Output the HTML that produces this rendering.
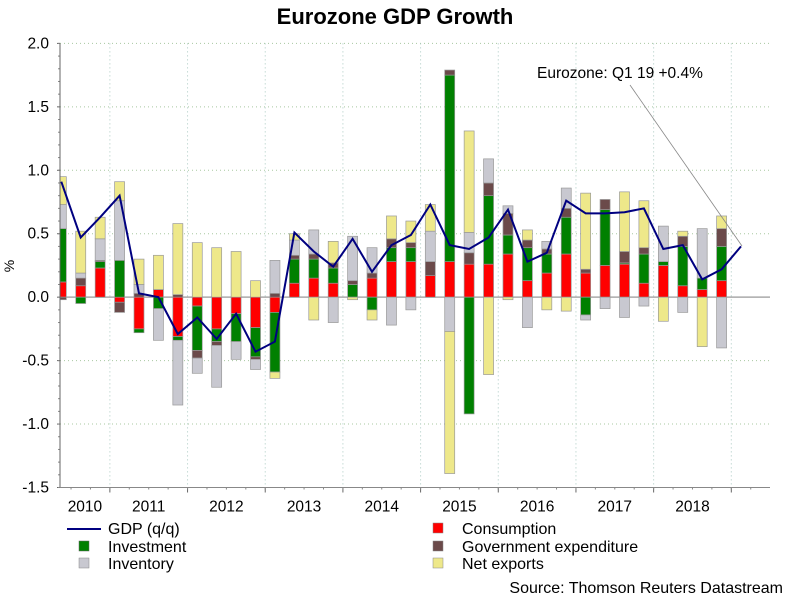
<!DOCTYPE html>
<html><head><meta charset="utf-8"><style>
body{margin:0;background:#fff;font-family:"Liberation Sans",Arial,sans-serif}
svg text{font-family:"Liberation Sans",Arial,sans-serif}
</style></head><body>
<svg id="chart" width="788" height="594" viewBox="0 0 788 594">
<text x="395" y="24" text-anchor="middle" font-size="22" font-weight="bold">Eurozone GDP Growth</text>
<g id="grid"></g><g id="bars"></g><g id="axes"></g><g id="line"></g>
<line x1="630" y1="85" x2="742" y2="246" stroke="#888" stroke-width="0.8"/>
<text x="537" y="78" font-size="15.5">Eurozone: Q1 19 +0.4%</text>
<text x="14" y="266" font-size="14" text-anchor="middle" transform="rotate(-90 14 266)">%</text>
<g>
<line x1="67" y1="529" x2="101" y2="529" stroke="#000080" stroke-width="2"/>
<text x="108" y="534" font-size="16">GDP (q/q)</text>
<rect x="79" y="541" width="10" height="10" fill="#008000" stroke="#666" stroke-width="0.5"/>
<text x="108" y="552" font-size="16">Investment</text>
<rect x="79" y="558" width="10" height="10" fill="#c8c8d0" stroke="#888" stroke-width="0.5"/>
<text x="108" y="569" font-size="16">Inventory</text>
<rect x="433" y="523" width="10" height="10" fill="#ff0000" stroke="#888" stroke-width="0.5"/>
<text x="462" y="534" font-size="16">Consumption</text>
<rect x="433" y="541" width="10" height="10" fill="#6b4a4a" stroke="#888" stroke-width="0.5"/>
<text x="462" y="552" font-size="16">Government expenditure</text>
<rect x="433" y="558" width="10" height="10" fill="#eee88a" stroke="#888" stroke-width="0.5"/>
<text x="462" y="569" font-size="16">Net exports</text>
</g>
<text x="783" y="593" font-size="16" text-anchor="end">Source: Thomson Reuters Datastream</text>
</svg>
<script>
// quarters from 2010Q2 (index 1) to 2018Q4; GDP extends to 2019Q1
const startIndex = [1];
const consumption = [0.12,0.09,0.23,-0.04,-0.25,0.06,-0.31,-0.07,-0.25,-0.13,-0.24,-0.12,0.11,0.15,0.11,0.0,0.15,0.28,0.28,0.17,0.28,0.26,0.26,0.34,0.13,0.19,0.34,0.19,0.25,0.26,0.11,0.25,0.09,0.06,0.13];
const investment = [0.42,-0.05,0.05,0.29,-0.03,-0.09,-0.03,-0.35,-0.10,-0.22,-0.23,-0.47,0.19,0.15,0.12,0.10,-0.10,0.11,0.11,0.0,1.47,-0.92,0.54,0.15,0.26,0.15,0.29,-0.14,0.44,0.01,0.23,0.03,0.31,0.09,0.27];
const government = [-0.02,0.06,0.01,-0.08,0.03,0.0,0.02,-0.06,-0.03,0.0,-0.02,0.03,0.03,0.04,0.04,0.03,0.04,0.07,0.04,0.11,0.04,0.09,0.10,0.17,0.06,0.04,0.07,0.03,0.08,0.09,0.05,0.0,0.08,0.0,0.14];
const inventory = [0.19,0.04,0.17,0.47,0.07,-0.25,-0.51,-0.12,-0.33,-0.14,-0.08,0.26,0.12,0.19,-0.20,0.35,0.20,-0.22,-0.10,0.24,-0.27,0.16,0.19,0.06,-0.24,0.06,0.16,-0.04,-0.09,-0.16,-0.07,0.28,-0.12,0.39,-0.40];
const netExports = [0.22,0.33,0.17,0.15,0.20,0.27,0.56,0.43,0.39,0.36,0.13,-0.05,0.05,-0.18,0.17,-0.02,-0.08,0.18,0.17,0.21,-1.12,0.80,-0.61,-0.02,0.08,-0.10,-0.11,0.60,0.0,0.47,0.37,-0.19,0.04,-0.39,0.10];
const gdp = [0.91,0.47,0.63,0.80,0.03,0.0,-0.29,-0.16,-0.33,-0.13,-0.43,-0.35,0.51,0.36,0.24,0.46,0.20,0.41,0.49,0.73,0.41,0.38,0.47,0.69,0.28,0.35,0.76,0.66,0.66,0.67,0.70,0.38,0.41,0.14,0.22,0.40];
const years = ["2010","2011","2012","2013","2014","2015","2016","2017","2018"];
const yTicks = [2.0,1.5,1.0,0.5,0.0,-0.5,-1.0,-1.5];

const NS="http://www.w3.org/2000/svg";
const X0=60,X1=770,Y0=43.4,Y1=487.5,VMAX=2,VMIN=-1.5;
const yScale=v=>Y0+(VMAX-v)/(VMAX-VMIN)*(Y1-Y0);
const Q=19.42;
const xScale=i=>41.9+Q*i;
function mk(tag,attrs,parent){const e=document.createElementNS(NS,tag);for(const k in attrs)e.setAttribute(k,attrs[k]);parent.appendChild(e);return e;}
const grid=document.getElementById('grid'),axes=document.getElementById('axes'),bars=document.getElementById('bars'),lineG=document.getElementById('line');

yTicks.forEach(v=>{
  const y=yScale(v);
  if(v!==0){const g=mk('line',{x1:X0,x2:X1,y1:y,y2:y,stroke:'#a8c8a0','stroke-width':1,'stroke-dasharray':'1 3'},grid);
  
  }
  const t=mk('text',{x:49,y:y+5,'font-size':15.5,'text-anchor':'end'},axes);
  t.textContent=v.toFixed(1);
  
  
  mk('line',{x1:X0-3,x2:X0,y1:y,y2:y,stroke:'#666'},axes);
});
for(let v=-1.5;v<=2.0001;v+=0.1){const y=yScale(v);mk('line',{x1:X0-2,x2:X0,y1:y,y2:y,stroke:'#888'},axes);}
years.forEach((yr,k)=>{
  const xb=xScale(4*k+4)-Q/2;
  const g=mk('line',{x1:xb,x2:xb,y1:Y0,y2:Y1,stroke:'#a8c8c0','stroke-dasharray':'1 3'},grid);
  
  
  mk('line',{x1:xb,x2:xb,y1:Y1,y2:Y1+5,stroke:'#666'},axes);
  const start=Math.max(X0,xScale(4*k)-Q/2);
  const t=mk('text',{x:(start+xb)/2,y:Y1+24,'font-size':15.5,'text-anchor':'middle'},axes);
  t.textContent=yr;
  
  
});
for(let i=1;i<=37;i++){const x=xScale(i)-Q/2;if(x>X0&&x<X1)mk('line',{x1:x,x2:x,y1:Y1,y2:Y1+2,stroke:'#888'},axes);}
const zl=mk('line',{x1:X0,x2:X1,y1:yScale(0),y2:yScale(0),stroke:'#aaa','stroke-width':1.5},grid);


const ya=mk('line',{x1:X0,x2:X0,y1:Y0,y2:Y1,stroke:'#666'},axes);


const xa=mk('line',{x1:X0,x2:X1,y1:Y1,y2:Y1,stroke:'#888'},axes);



const series=[[consumption,'#ff0000','consumption'],[investment,'#008000','investment'],[government,'#6b4a4a','government'],[inventory,'#c8c8d0','inventory'],[netExports,'#eee88a','net-exports']];
const clip=mk('clipPath',{id:'pc'},bars);mk('rect',{x:X0,y:0,width:X1-X0,height:594},clip);
bars.setAttribute('clip-path','url(#pc)');
for(let j=0;j<consumption.length;j++){
  const x=xScale(startIndex[0]+j);let pos=0,neg=0;
  series.forEach(([arr,col,name])=>{
    const v=arr[j];if(!v)return;
    let a,b;if(v>0){a=pos;b=pos+v;pos=b;}else{a=neg;b=neg+v;neg=b;}
    const y1=yScale(Math.max(a,b)),y2=yScale(Math.min(a,b));
    const r=mk('rect',{x:x-5,y:y1,width:10,height:Math.max(0.5,y2-y1),fill:col,stroke:'#999','stroke-width':0.7},bars);
    
    
  });
}
const pts=gdp.map((v,j)=>xScale(startIndex[0]+j).toFixed(1)+','+yScale(v).toFixed(1)).join(' ');
const pl=mk('polyline',{points:pts,fill:'none',stroke:'#000080','stroke-width':2},lineG);


</script>
</body></html>
